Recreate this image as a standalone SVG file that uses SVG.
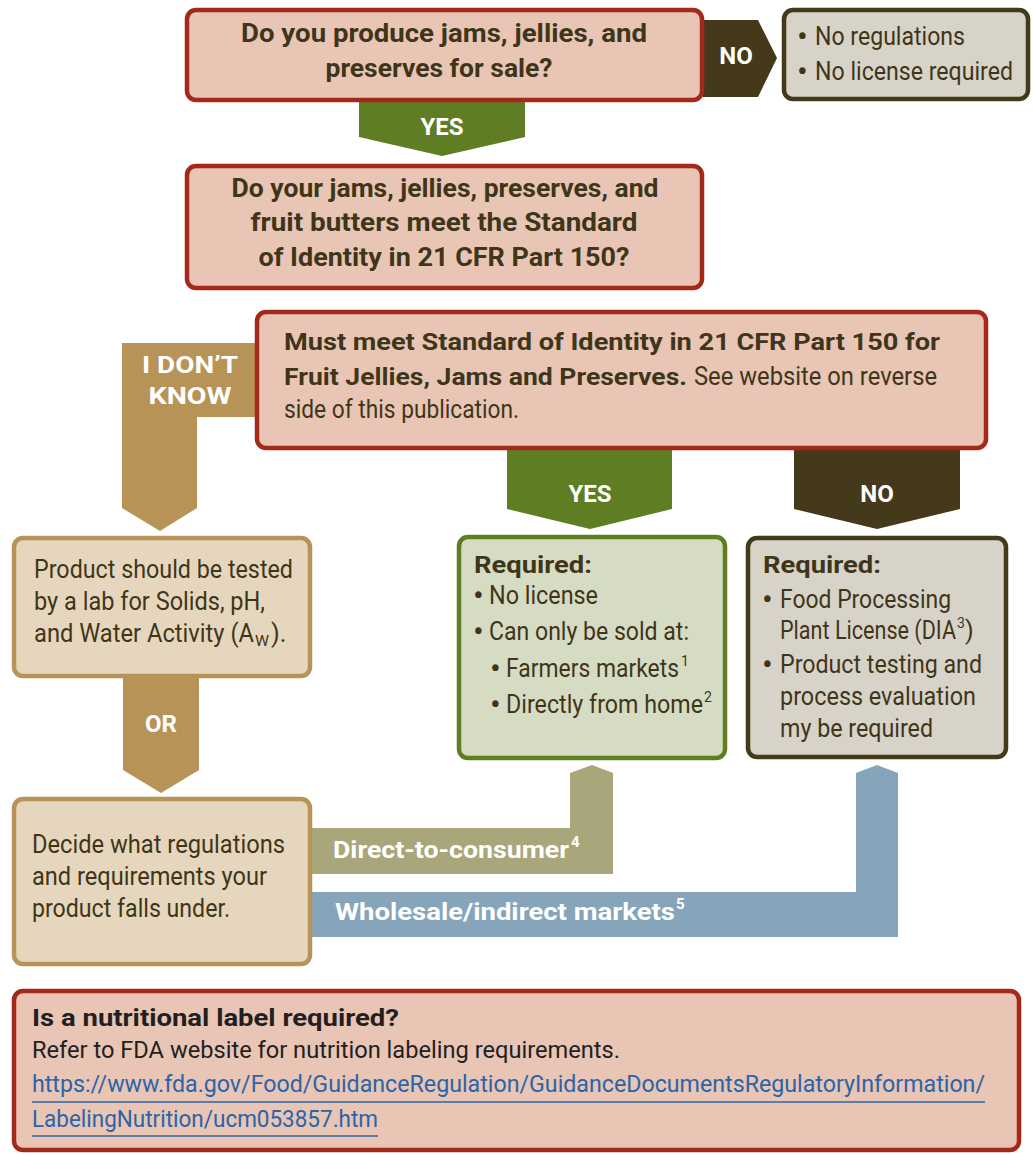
<svg xmlns="http://www.w3.org/2000/svg" width="1034" height="1154" viewBox="0 0 1034 1154">
<style>
.q{fill:#E8C5B5;stroke:#A4291B;stroke-width:4.5}
.tan{fill:#E6D6BD;stroke:#B89357;stroke-width:4.5}
.grn{fill:#D6DCC3;stroke:#5F7D23;stroke-width:4.5}
.gry{fill:#D8D3C8;stroke:#44391B;stroke-width:4.5}
.b{font-family:Roboto,"Liberation Sans",sans-serif;font-weight:bold;fill:#3F361A}
.r{font-family:Roboto,"Liberation Sans",sans-serif;fill:#3F361A}
.w{font-family:Roboto,"Liberation Sans",sans-serif;font-weight:bold;fill:#FFFFFF}
.k{fill:#231F20}
.lnk{font-family:Roboto,"Liberation Sans",sans-serif;fill:#2B64A8}
.bu{font-size:32px}
</style>
<g id="connectors">
<polygon points="359,101 525,101 525,137 442,156 359,137" fill="#5F7D23"/>
<text class="w" x="442" y="135" font-size="24" text-anchor="middle">YES</text>
<polygon points="703,20 758,20 777,58 758,97 703,97" fill="#44391B"/>
<text class="w" x="736" y="64" font-size="24" text-anchor="middle">NO</text>
<polygon points="122,343 256,343 256,417 197,417 197,508 160,531 122,508" fill="#B89357"/>
<text class="w" x="190" y="373" font-size="24" text-anchor="middle" textLength="96" lengthAdjust="spacingAndGlyphs">I DON’T</text>
<text class="w" x="190" y="404" font-size="24" text-anchor="middle" textLength="83" lengthAdjust="spacingAndGlyphs">KNOW</text>
<polygon points="123,678 199,678 199,770 161,793 123,770" fill="#B89357"/>
<text class="w" x="161" y="732" font-size="24" text-anchor="middle">OR</text>
<polygon points="507,449 672,449 672,509 590,529 507,509" fill="#5F7D23"/>
<text class="w" x="590" y="502" font-size="24" text-anchor="middle">YES</text>
<polygon points="794,449 960,449 960,509 877,529 794,509" fill="#44391B"/>
<text class="w" x="877" y="502" font-size="24" text-anchor="middle">NO</text>
<polygon points="312,828 570,828 570,773 592,765 613,773 613,874 312,874" fill="#A9A67C"/>
<text class="w" x="333" y="858" font-size="24"><tspan textLength="236" lengthAdjust="spacingAndGlyphs">Direct-to-consumer</tspan><tspan x="571" y="847" font-size="15">4</tspan></text>
<polygon points="312,892 856,892 856,773 877,765 898,773 898,937 312,937" fill="#86A5BA"/>
<text class="w" x="335" y="920" font-size="24"><tspan textLength="340" lengthAdjust="spacingAndGlyphs">Wholesale/indirect markets</tspan><tspan x="676" y="909" font-size="15">5</tspan></text>
</g>
<g id="q1">
<rect class="q" x="187" y="10" width="515" height="90" rx="9"/>
<text class="b" x="444" y="42" font-size="25" text-anchor="middle" textLength="406" lengthAdjust="spacingAndGlyphs">Do you produce jams, jellies, and</text>
<text class="b" x="439" y="77" font-size="25" text-anchor="middle" textLength="227" lengthAdjust="spacingAndGlyphs">preserves for sale?</text>
</g>
<g id="noreg">
<rect class="gry" x="784" y="10" width="244" height="89" rx="9"/>
<text class="r" y="45" font-size="25"><tspan class="bu" x="797" y="47">•</tspan><tspan x="815" y="45" textLength="150" lengthAdjust="spacingAndGlyphs">No regulations</tspan></text>
<text class="r" y="80" font-size="25"><tspan class="bu" x="797" y="82">•</tspan><tspan x="815" y="80" textLength="198" lengthAdjust="spacingAndGlyphs">No license required</tspan></text>
</g>
<g id="q2">
<rect class="q" x="187" y="166" width="515" height="122" rx="9"/>
<text class="b" x="445" y="197" font-size="25" text-anchor="middle" textLength="427" lengthAdjust="spacingAndGlyphs">Do your jams, jellies, preserves, and</text>
<text class="b" x="444" y="231" font-size="25" text-anchor="middle" textLength="387" lengthAdjust="spacingAndGlyphs">fruit butters meet the Standard</text>
<text class="b" x="444" y="266" font-size="25" text-anchor="middle" textLength="371" lengthAdjust="spacingAndGlyphs">of Identity in 21 CFR Part 150?</text>
</g>
<g id="q3">
<rect class="q" x="257" y="312" width="729" height="136" rx="9"/>
<text class="b" x="284" y="350" font-size="24" textLength="656" lengthAdjust="spacingAndGlyphs">Must meet Standard of Identity in 21 CFR Part 150 for</text>
<text class="b" x="284" y="385" font-size="24" textLength="403" lengthAdjust="spacingAndGlyphs">Fruit Jellies, Jams and Preserves.</text>
<text class="r" x="694" y="385" font-size="25" textLength="243" lengthAdjust="spacingAndGlyphs">See website on reverse</text>
<text class="r" x="284" y="418" font-size="25" textLength="235" lengthAdjust="spacingAndGlyphs">side of this publication.</text>
</g>
<g id="test">
<rect class="tan" x="14" y="538" width="296" height="138" rx="9"/>
<text class="r" x="34" y="578" font-size="25" textLength="259" lengthAdjust="spacingAndGlyphs">Product should be tested</text>
<text class="r" x="34" y="610" font-size="25" textLength="231" lengthAdjust="spacingAndGlyphs">by a lab for Solids, pH,</text>
<text class="r" x="34" y="642" font-size="25"><tspan textLength="220" lengthAdjust="spacingAndGlyphs">and Water Activity (A</tspan><tspan x="255" y="646" font-size="15" textLength="14" lengthAdjust="spacingAndGlyphs">W</tspan><tspan x="271" y="642">).</tspan></text>
</g>
<g id="decide">
<rect class="tan" x="14" y="799" width="296" height="165" rx="9"/>
<text class="r" x="32" y="853" font-size="25" textLength="253" lengthAdjust="spacingAndGlyphs">Decide what regulations</text>
<text class="r" x="32" y="885" font-size="25" textLength="235" lengthAdjust="spacingAndGlyphs">and requirements your</text>
<text class="r" x="32" y="917" font-size="25" textLength="198" lengthAdjust="spacingAndGlyphs">product falls under.</text>
</g>
<g id="yesreq">
<rect class="grn" x="459" y="537" width="266" height="221" rx="9"/>
<text class="b" x="474" y="573" font-size="24" textLength="118" lengthAdjust="spacingAndGlyphs">Required:</text>
<text class="r" font-size="25"><tspan class="bu" x="473" y="606">•</tspan><tspan x="489" y="604" textLength="109" lengthAdjust="spacingAndGlyphs">No license</tspan></text>
<text class="r" font-size="25"><tspan class="bu" x="473" y="642">•</tspan><tspan x="489" y="640" textLength="200" lengthAdjust="spacingAndGlyphs">Can only be sold at:</tspan></text>
<text class="r" font-size="25"><tspan class="bu" x="490" y="679">•</tspan><tspan x="506" y="677" textLength="173" lengthAdjust="spacingAndGlyphs">Farmers markets</tspan><tspan x="681" y="666" font-size="14">1</tspan></text>
<text class="r" font-size="25"><tspan class="bu" x="490" y="715">•</tspan><tspan x="506" y="713" textLength="197" lengthAdjust="spacingAndGlyphs">Directly from home</tspan><tspan x="704" y="702" font-size="14">2</tspan></text>
</g>
<g id="noreq">
<rect class="gry" x="748" y="538" width="258" height="219" rx="9"/>
<text class="b" x="763" y="573" font-size="24" textLength="118" lengthAdjust="spacingAndGlyphs">Required:</text>
<text class="r" font-size="25"><tspan class="bu" x="762" y="610">•</tspan><tspan x="780" y="608" textLength="171" lengthAdjust="spacingAndGlyphs">Food Processing</tspan></text>
<text class="r" font-size="25"><tspan x="780" y="639" textLength="176" lengthAdjust="spacingAndGlyphs">Plant License (DIA</tspan><tspan x="957" y="628" font-size="14">3</tspan><tspan x="965" y="639">)</tspan></text>
<text class="r" font-size="25"><tspan class="bu" x="762" y="675">•</tspan><tspan x="780" y="673" textLength="202" lengthAdjust="spacingAndGlyphs">Product testing and</tspan></text>
<text class="r" x="780" y="705" font-size="25" textLength="196" lengthAdjust="spacingAndGlyphs">process evaluation</text>
<text class="r" x="780" y="737" font-size="25" textLength="153" lengthAdjust="spacingAndGlyphs">my be required</text>
</g>
<g id="nutrition">
<rect class="q" x="14" y="991" width="1005" height="159" rx="9"/>
<text class="b k" x="32" y="1026" font-size="24" textLength="367" lengthAdjust="spacingAndGlyphs">Is a nutritional label required?</text>
<text class="r k" x="32" y="1058" font-size="23" textLength="588" lengthAdjust="spacingAndGlyphs">Refer to FDA website for nutrition labeling requirements.</text>
<text class="lnk" x="32" y="1092" font-size="23" textLength="953" lengthAdjust="spacingAndGlyphs">https://www.fda.gov/Food/GuidanceRegulation/GuidanceDocumentsRegulatoryInformation/</text>
<line x1="32" y1="1102" x2="985" y2="1102" stroke="#2B64A8" stroke-width="1.5"/>
<text class="lnk" x="32" y="1127" font-size="23" textLength="346" lengthAdjust="spacingAndGlyphs">LabelingNutrition/ucm053857.htm</text>
<line x1="32" y1="1136" x2="378" y2="1136" stroke="#2B64A8" stroke-width="1.5"/>
</g>
</svg>
